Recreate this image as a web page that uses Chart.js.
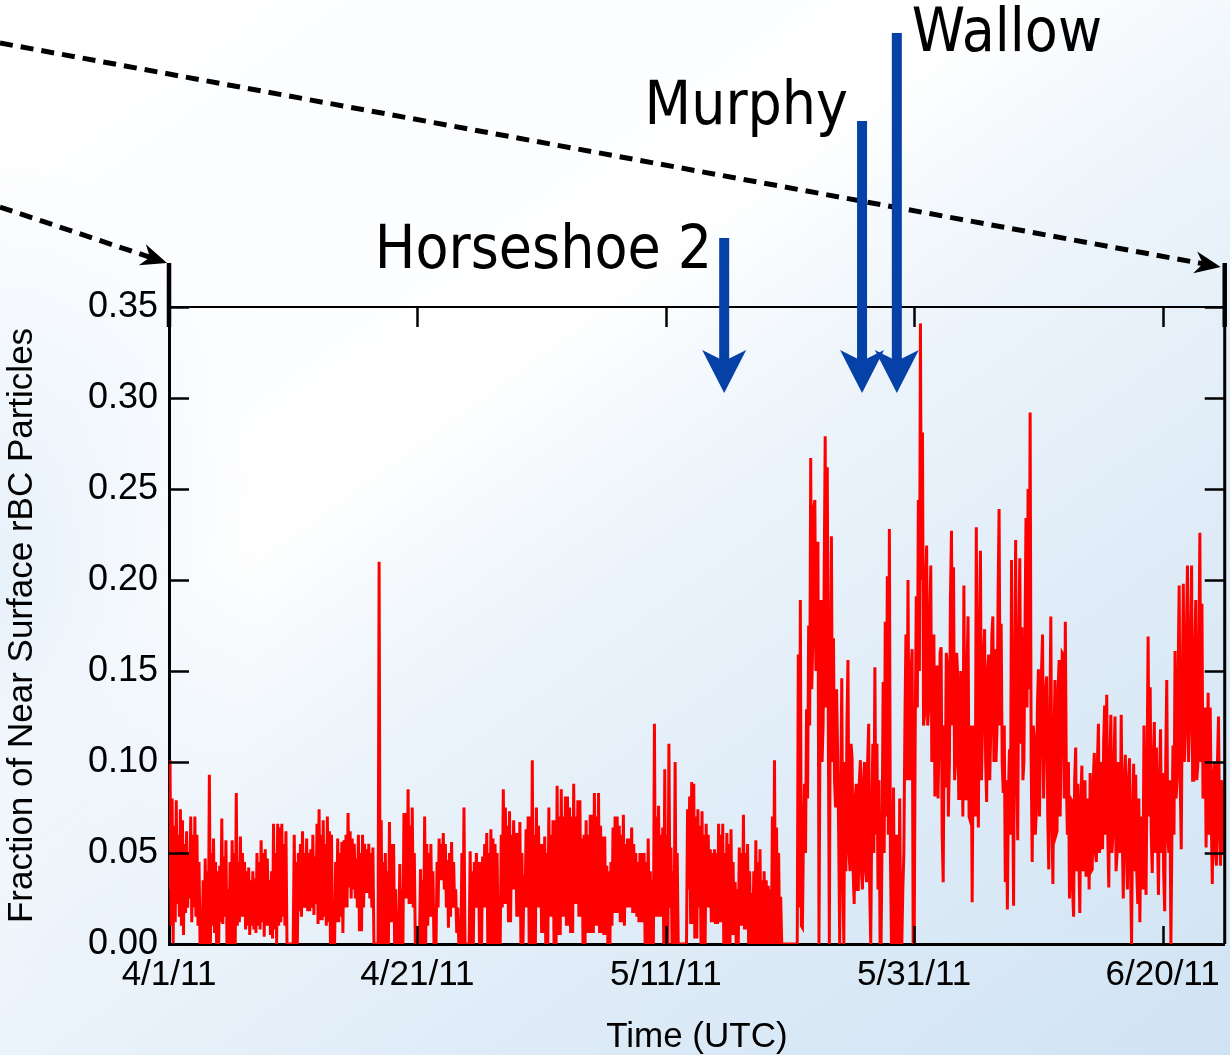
<!DOCTYPE html>
<html>
<head>
<meta charset="utf-8">
<script src="https://cdn.jsdelivr.net/npm/chart.js@4.4.1/dist/chart.umd.min.js"></script>
<style>
  html, body { margin: 0; padding: 0; }
  body {
    width: 1230px;
    height: 1055px;
    overflow: hidden;
    background:
      radial-gradient(ellipse 260px 420px at 0% 55%, rgba(214, 231, 246, 0.55), rgba(214, 231, 246, 0) 100%),
      linear-gradient(144deg, #ffffff 0%, #fbfdff 24%, #ffffff 37%, #eef5fb 50%, #e1edf8 68%, #d0e3f3 100%);
  }
</style>
</head>
<body>
<canvas id="rbcChart" width="1230" height="1055"></canvas>
<script>
// x is days since 4/1/11 00:00 UTC, samples every 2 hours
const samplesPerDay = 12;
const tickDays = [0, 20, 40, 60, 80];
const tickLabels = ["4/1/11", "4/21/11", "5/11/11", "5/31/11", "6/20/11"];

// fire plumes reaching the site (day of arrival)
const fireNames = ["Horseshoe 2", "Murphy", "Wallow"];
const fireDays = [44.7, 55.8, 58.6];

// fraction of rBC particles with near-surface coatings, one row per day
const nearSurface = [
  0.03, 0.101, 0.01, 0.08, 0.0, 0.065, 0.012, 0.079, 0.022, 0.06, 0.015, 0.074,
  0.01, 0.068, 0.005, 0.055, 0.017, 0.062, 0.02, 0.05, 0.025, 0.07, 0.012, 0.06,
  0.02, 0.07, 0.015, 0.06, 0.01, 0.045, 0.0, 0.0, 0.0, 0.035, 0.0, 0.047,
  0.0, 0.04, 0.0, 0.093, 0.0, 0.05, 0.01, 0.058, 0.006, 0.045, 0.0, 0.04,
  0.0, 0.043, 0.012, 0.069, 0.011, 0.048, 0.015, 0.057, 0.0, 0.03, 0.0, 0.045,
  0.0, 0.057, 0.0, 0.05, 0.0, 0.083, 0.01, 0.045, 0.012, 0.059, 0.015, 0.05,
  0.015, 0.045, 0.008, 0.04, 0.01, 0.042, 0.005, 0.035, 0.01, 0.04, 0.008, 0.036,
  0.006, 0.05, 0.01, 0.045, 0.008, 0.057, 0.012, 0.05, 0.004, 0.052, 0.01, 0.047,
  0.01, 0.035, 0.005, 0.04, 0.003, 0.066, 0.008, 0.05, 0.0, 0.066, 0.01, 0.064,
  0.012, 0.066, 0.015, 0.055, 0.01, 0.062, 0.0, 0.0, 0.0, 0.0, 0.0, 0.0,
  0.0, 0.06, 0.0, 0.045, 0.0, 0.05, 0.018, 0.055, 0.015, 0.062, 0.02, 0.05,
  0.02, 0.058, 0.018, 0.05, 0.018, 0.052, 0.02, 0.06, 0.016, 0.048, 0.022, 0.066,
  0.011, 0.074, 0.013, 0.06, 0.013, 0.068, 0.015, 0.055, 0.01, 0.07, 0.012, 0.062,
  0.0, 0.06, 0.0, 0.0, 0.0, 0.045, 0.012, 0.058, 0.012, 0.05, 0.015, 0.056,
  0.006, 0.057, 0.02, 0.06, 0.02, 0.072, 0.031, 0.062, 0.025, 0.058, 0.03, 0.055,
  0.025, 0.047, 0.02, 0.06, 0.007, 0.05, 0.007, 0.06, 0.02, 0.055, 0.028, 0.052,
  0.028, 0.055, 0.025, 0.05, 0.02, 0.053, 0.0, 0.0, 0.0, 0.0, 0.0, 0.21,
  0.0, 0.068, 0.0, 0.045, 0.0, 0.05, 0.0, 0.04, 0.0, 0.067, 0.012, 0.055,
  0.012, 0.055, 0.0, 0.03, 0.0, 0.0, 0.0, 0.044, 0.0, 0.03, 0.0, 0.072,
  0.025, 0.072, 0.025, 0.085, 0.022, 0.065, 0.022, 0.075, 0.02, 0.05, 0.0, 0.0,
  0.0, 0.0, 0.0, 0.041, 0.0, 0.035, 0.0, 0.07, 0.0, 0.055, 0.01, 0.05,
  0.015, 0.055, 0.015, 0.04, 0.0, 0.0, 0.0, 0.045, 0.02, 0.058, 0.035, 0.055,
  0.035, 0.061, 0.03, 0.055, 0.02, 0.046, 0.009, 0.05, 0.015, 0.056, 0.02, 0.045,
  0.02, 0.03, 0.006, 0.02, 0.0, 0.0, 0.0, 0.05, 0.0, 0.075, 0.0, 0.0,
  0.0, 0.0, 0.0, 0.051, 0.0, 0.04, 0.0, 0.045, 0.02, 0.05, 0.02, 0.045,
  0.0, 0.045, 0.0, 0.048, 0.02, 0.055, 0.02, 0.061, 0.0, 0.05, 0.0, 0.063,
  0.0, 0.058, 0.0, 0.055, 0.0, 0.05, 0.0, 0.0, 0.0, 0.06, 0.02, 0.085,
  0.022, 0.075, 0.022, 0.065, 0.012, 0.073, 0.012, 0.06, 0.03, 0.068, 0.03, 0.061,
  0.015, 0.061, 0.015, 0.067, 0.0, 0.05, 0.0, 0.038, 0.02, 0.063, 0.02, 0.07,
  0.0, 0.07, 0.0, 0.101, 0.0, 0.06, 0.0, 0.075, 0.02, 0.065, 0.02, 0.055,
  0.006, 0.055, 0.006, 0.059, 0.0, 0.05, 0.0, 0.075, 0.015, 0.06, 0.015, 0.068,
  0.0, 0.068, 0.0, 0.087, 0.005, 0.07, 0.005, 0.085, 0.015, 0.07, 0.015, 0.081,
  0.01, 0.081, 0.01, 0.075, 0.006, 0.07, 0.006, 0.088, 0.022, 0.07, 0.022, 0.079,
  0.015, 0.079, 0.015, 0.058, 0.0, 0.06, 0.0, 0.068, 0.006, 0.06, 0.006, 0.071,
  0.006, 0.071, 0.006, 0.083, 0.01, 0.07, 0.01, 0.083, 0.006, 0.065, 0.006, 0.059,
  0.005, 0.059, 0.005, 0.043, 0.0, 0.04, 0.0, 0.045, 0.01, 0.064, 0.017, 0.07,
  0.017, 0.07, 0.017, 0.065, 0.012, 0.06, 0.012, 0.071, 0.01, 0.055, 0.02, 0.058,
  0.02, 0.058, 0.02, 0.064, 0.017, 0.055, 0.017, 0.05, 0.015, 0.045, 0.012, 0.05,
  0.012, 0.05, 0.012, 0.05, 0.0, 0.045, 0.0, 0.058, 0.0, 0.04, 0.0, 0.035,
  0.0, 0.121, 0.015, 0.07, 0.015, 0.076, 0.015, 0.06, 0.015, 0.064, 0.0, 0.096,
  0.0, 0.06, 0.0, 0.11, 0.02, 0.053, 0.0, 0.04, 0.0, 0.1, 0.0, 0.05,
  0.0, 0.0, 0.0, 0.0, 0.0, 0.0, 0.0, 0.0, 0.0, 0.074, 0.03, 0.081,
  0.011, 0.089, 0.011, 0.088, 0.003, 0.07, 0.003, 0.074, 0.02, 0.065, 0.0, 0.073,
  0.0, 0.06, 0.0, 0.066, 0.02, 0.06, 0.02, 0.052, 0.012, 0.05, 0.012, 0.052,
  0.011, 0.05, 0.011, 0.066, 0.012, 0.06, 0.012, 0.066, 0.0, 0.05, 0.0, 0.061,
  0.0, 0.055, 0.0, 0.063, 0.005, 0.045, 0.005, 0.034, 0.0, 0.03, 0.0, 0.053,
  0.01, 0.05, 0.01, 0.071, 0.008, 0.05, 0.008, 0.055, 0.0, 0.04, 0.0, 0.028,
  0.0, 0.04, 0.0, 0.057, 0.0, 0.045, 0.0, 0.052, 0.0, 0.035, 0.0, 0.04,
  0.0, 0.035, 0.0, 0.032, 0.0, 0.03, 0.0, 0.07, 0.0, 0.101, 0.0, 0.064,
  0.0, 0.05, 0.0, 0.026, 0.0, 0.0, 0.0, 0.0, 0.0, 0.0, 0.0, 0.0,
  0.0, 0.0, 0.0, 0.0, 0.0, 0.0, 0.0, 0.0, 0.159, 0.02, 0.189, 0.01,
  0.009, 0.06, 0.088, 0.05, 0.129, 0.08, 0.175, 0.12, 0.267, 0.14, 0.165, 0.24,
  0.244, 0.15, 0.183, 0.221, 0.0, 0.12, 0.189, 0.1, 0.121, 0.2, 0.279, 0.13,
  0.262, 0.12, 0.0, 0.15, 0.224, 0.1, 0.168, 0.09, 0.075, 0.14, 0.105, 0.06,
  0.0, 0.08, 0.146, 0.04, 0.0, 0.1, 0.04, 0.12, 0.156, 0.05, 0.04, 0.11,
  0.102, 0.04, 0.022, 0.08, 0.088, 0.03, 0.03, 0.09, 0.101, 0.04, 0.03, 0.09,
  0.1, 0.04, 0.034, 0.1, 0.121, 0.03, 0.0, 0.07, 0.11, 0.05, 0.152, 0.06,
  0.11, 0.03, 0.09, 0.0, 0.0, 0.06, 0.144, 0.05, 0.177, 0.07, 0.202, 0.06,
  0.228, 0.05, 0.0, 0.04, 0.086, 0.0, 0.02, 0.06, 0.0, 0.0, 0.08, 0.0,
  0.0, 0.03, 0.05, 0.12, 0.17, 0.09, 0.2, 0.1, 0.09, 0.15, 0.162, 0.0,
  0.0, 0.12, 0.191, 0.13, 0.244, 0.15, 0.341, 0.2, 0.281, 0.12, 0.126, 0.2,
  0.219, 0.12, 0.13, 0.18, 0.208, 0.1, 0.118, 0.17, 0.081, 0.13, 0.153, 0.08,
  0.113, 0.16, 0.163, 0.06, 0.034, 0.12, 0.086, 0.16, 0.153, 0.07, 0.1, 0.19,
  0.227, 0.12, 0.207, 0.09, 0.1, 0.16, 0.148, 0.08, 0.08, 0.15, 0.12, 0.07,
  0.197, 0.09, 0.079, 0.15, 0.18, 0.07, 0.068, 0.12, 0.023, 0.11, 0.12, 0.07,
  0.229, 0.1, 0.064, 0.17, 0.216, 0.09, 0.12, 0.16, 0.173, 0.1, 0.078, 0.15,
  0.159, 0.09, 0.119, 0.17, 0.18, 0.1, 0.162, 0.1, 0.118, 0.19, 0.239, 0.12,
  0.176, 0.1, 0.083, 0.12, 0.034, 0.09, 0.019, 0.08, 0.107, 0.06, 0.211, 0.1,
  0.021, 0.14, 0.222, 0.1, 0.057, 0.16, 0.212, 0.11, 0.174, 0.09, 0.1, 0.17,
  0.234, 0.13, 0.25, 0.14, 0.292, 0.1, 0.045, 0.12, 0.113, 0.06, 0.073, 0.13,
  0.151, 0.07, 0.111, 0.15, 0.17, 0.08, 0.111, 0.14, 0.147, 0.07, 0.041, 0.12,
  0.18, 0.07, 0.033, 0.11, 0.145, 0.06, 0.062, 0.14, 0.156, 0.07, 0.112, 0.16,
  0.159, 0.08, 0.177, 0.09, 0.06, 0.1, 0.025, 0.08, 0.079, 0.03, 0.015, 0.09,
  0.108, 0.04, 0.088, 0.05, 0.017, 0.08, 0.098, 0.04, 0.075, 0.09, 0.037, 0.08,
  0.07, 0.03, 0.094, 0.04, 0.041, 0.09, 0.105, 0.05, 0.045, 0.1, 0.121, 0.05,
  0.07, 0.1, 0.052, 0.11, 0.131, 0.06, 0.137, 0.06, 0.031, 0.1, 0.126, 0.05,
  0.06, 0.1, 0.125, 0.04, 0.05, 0.1, 0.09, 0.05, 0.126, 0.06, 0.025, 0.09,
  0.104, 0.05, 0.03, 0.09, 0.102, 0.04, 0.0, 0.07, 0.099, 0.04, 0.093, 0.04,
  0.022, 0.08, 0.012, 0.06, 0.07, 0.03, 0.12, 0.05, 0.027, 0.1, 0.169, 0.07,
  0.141, 0.06, 0.039, 0.1, 0.122, 0.05, 0.108, 0.06, 0.027, 0.09, 0.118, 0.05,
  0.094, 0.04, 0.018, 0.1, 0.145, 0.06, 0.05, 0.09, 0.0, 0.06, 0.109, 0.06,
  0.161, 0.08, 0.09, 0.15, 0.197, 0.09, 0.052, 0.14, 0.198, 0.1, 0.116, 0.17,
  0.208, 0.1, 0.12, 0.17, 0.208, 0.09, 0.09, 0.16, 0.189, 0.09, 0.098, 0.16,
  0.226, 0.1, 0.187, 0.08, 0.083, 0.13, 0.053, 0.1, 0.138, 0.06, 0.13, 0.07,
  0.033, 0.09, 0.1, 0.05, 0.043, 0.1, 0.125, 0.06, 0.043, 0.09, 0.084, 0.05,
  0.085
];

const points = nearSurface.map((v, i) => ({ x: i / samplesPerDay, y: v }));

const axisFont = "'Liberation Sans', Arial, sans-serif";
const noteFont = "'Comic Sans MS', 'DejaVu Sans', sans-serif";

// box on all four sides with ticks pointing inward
const frame = {
  id: "frame",
  afterDraw(chart) {
    const { ctx, chartArea: a, scales: { x, y } } = chart;
    ctx.save();
    ctx.strokeStyle = "#000";
    ctx.lineWidth = 2;
    ctx.beginPath();
    ctx.moveTo(a.left, a.top);
    ctx.lineTo(a.right, a.top);
    ctx.stroke();
    ctx.lineWidth = 3;
    ctx.beginPath();
    ctx.moveTo(a.right, a.top);
    ctx.lineTo(a.right, a.bottom);
    ctx.stroke();

    ctx.lineWidth = 2.5;
    ctx.beginPath();
    y.ticks.forEach(t => {
      const py = Math.round(y.getPixelForValue(t.value)) + 0.5;
      ctx.moveTo(a.left, py); ctx.lineTo(a.left + 20, py);
      ctx.moveTo(a.right - 20, py); ctx.lineTo(a.right, py);
    });
    x.ticks.forEach(t => {
      const px = Math.round(x.getPixelForValue(t.value)) + 0.5;
      ctx.moveTo(px, a.bottom); ctx.lineTo(px, a.bottom - 18);
      ctx.moveTo(px, a.top); ctx.lineTo(px, a.top + 20);
    });
    ctx.stroke();
    ctx.restore();
  }
};

function dashedArrow(ctx, x0, y0, x1, y1) {
  const ang = Math.atan2(y1 - y0, x1 - x0);
  const len = Math.hypot(x1 - x0, y1 - y0);
  ctx.save();
  ctx.translate(x0, y0);
  ctx.rotate(ang);
  ctx.strokeStyle = "#000";
  ctx.fillStyle = "#000";
  ctx.lineWidth = 5;
  ctx.setLineDash([13, 8]);
  ctx.beginPath();
  ctx.moveTo(0, 0);
  ctx.lineTo(len - 16, 0);
  ctx.stroke();
  ctx.setLineDash([]);
  ctx.beginPath();
  ctx.moveTo(len, 0);
  ctx.lineTo(len - 26, -11);
  ctx.lineTo(len - 18, 0);
  ctx.lineTo(len - 26, 11);
  ctx.closePath();
  ctx.fill();
  ctx.restore();
}

function fireArrow(ctx, px, top, tip) {
  ctx.save();
  ctx.fillStyle = "#0641a7";
  ctx.fillRect(px - 5, top, 10, tip - top - 30);
  ctx.beginPath();
  ctx.moveTo(px, tip);
  ctx.lineTo(px - 22, tip - 43);
  ctx.lineTo(px, tip - 32);
  ctx.lineTo(px + 22, tip - 43);
  ctx.closePath();
  ctx.fill();
  ctx.restore();
}

// shaft tops above the frame, and where each name sits beside its arrow
const shaftRise = [69, 186, 274];
const nameSpots = [
  { dx: -12, rise: 39, align: "right" },
  { dx: -14, rise: 183, align: "right" },
  { dx: 15, rise: 256, align: "left" }
];

const notes = {
  id: "notes",
  afterDraw(chart) {
    const { ctx, chartArea: a, scales: { x } } = chart;
    ctx.save();
    // span markers at both ends of the record
    ctx.strokeStyle = "#000";
    ctx.lineWidth = 4.5;
    ctx.beginPath();
    ctx.moveTo(a.left, a.top - 44); ctx.lineTo(a.left, a.top + 20);
    ctx.moveTo(a.right, a.top - 44); ctx.lineTo(a.right, a.top + 20);
    ctx.stroke();
    ctx.restore();

    dashedArrow(ctx, 0, 43, a.right - 4, a.top - 40);
    dashedArrow(ctx, 0, 207, a.left - 2, a.top - 44);

    fireDays.forEach((d, i) => {
      const px = x.getPixelForValue(d);
      fireArrow(ctx, px, a.top - shaftRise[i], a.top + 86);
      const spot = nameSpots[i];
      ctx.save();
      ctx.translate(px + spot.dx, a.top - spot.rise);
      ctx.scale(0.9, 1);
      ctx.font = "60px " + noteFont;
      ctx.fillStyle = "#000";
      ctx.textAlign = spot.align;
      ctx.textBaseline = "alphabetic";
      ctx.fillText(fireNames[i], 0, 0);
      ctx.restore();
    });
  }
};

new Chart(document.getElementById("rbcChart"), {
  type: "line",
  data: {
    datasets: [{
      data: points,
      borderColor: "#ff0000",
      borderWidth: 3,
      pointRadius: 0,
      tension: 0,
      fill: false
    }]
  },
  options: {
    responsive: false,
    animation: false,
    layout: { padding: { top: 307, right: 5, left: 0, bottom: 0 } },
    plugins: { legend: { display: false }, tooltip: { enabled: false } },
    scales: {
      x: {
        type: "linear",
        min: 0,
        max: 85,
        afterBuildTicks: s => { s.ticks = tickDays.map(v => ({ value: v })); },
        afterFit: s => { s.height = 111; },
        grid: { display: false, drawTicks: false },
        border: { display: true, color: "#000", width: 3 },
        ticks: {
          callback: v => tickLabels[tickDays.indexOf(v)],
          font: { family: axisFont, size: 35 },
          color: "#000",
          padding: 10,
          maxRotation: 0,
          autoSkip: false
        },
        title: {
          display: true,
          text: "Time (UTC)",
          font: { family: axisFont, size: 35, lineHeight: 1 },
          color: "#000",
          padding: 0
        }
      },
      y: {
        min: 0,
        max: 0.35,
        afterFit: s => { s.width = 169; },
        grid: { display: false, drawTicks: false },
        border: { display: true, color: "#000", width: 3 },
        ticks: {
          stepSize: 0.05,
          callback: v => v.toFixed(2),
          font: { family: axisFont, size: 36 },
          color: "#000",
          padding: 11
        },
        title: {
          display: true,
          text: "Fraction of Near Surface rBC Particles",
          font: { family: axisFont, size: 35 },
          color: "#000",
          padding: { top: 1, bottom: 0 }
        }
      }
    }
  },
  plugins: [frame, notes]
});
</script>
</body>
</html>
